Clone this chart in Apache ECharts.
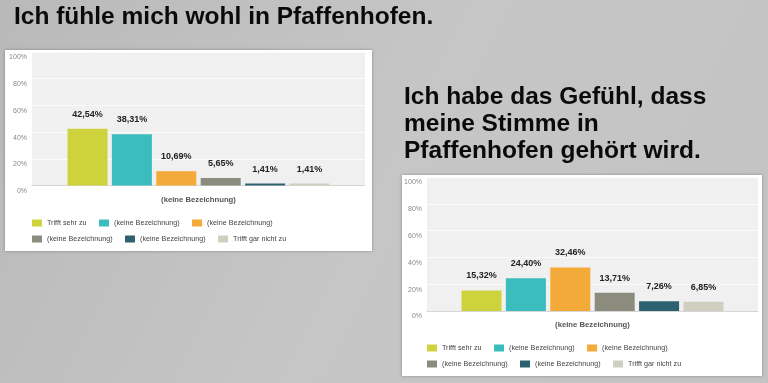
<!DOCTYPE html>
<html>
<head>
<meta charset="utf-8">
<script src="https://cdn.jsdelivr.net/npm/echarts@6/dist/echarts.min.js"></script>
<style>html,body{margin:0;padding:0;background:#c0c0c0}#c{width:768px;height:383px}</style>
</head>
<body>
<div id="c"></div>
<script>
const titleLeft = 'Ich fühle mich wohl in Pfaffenhofen.';
const titleRight = 'Ich habe das Gefühl, dass\nmeine Stimme in\nPfaffenhofen gehört wird.';
const categories = ['(keine Bezeichnung)'];
const seriesNames = ['Trifft sehr zu', '(keine Bezeichnung)', '(keine Bezeichnung)', '(keine Bezeichnung)', '(keine Bezeichnung)', 'Trifft gar nicht zu'];
const valuesLeft = [42.54, 38.31, 10.69, 5.65, 1.41, 1.41];
const valuesRight = [15.32, 24.40, 32.46, 13.71, 7.26, 6.85];
const yTicks = [0, 20, 40, 60, 80, 100];
const colors = ['#cdd23d', '#3bbdbd', '#f4aa38', '#8b8c7e', '#2d6170', '#cfcfc1'];

const FONT = '"Liberation Sans", Arial, sans-serif';
// unique internal names (zero-width suffix) so duplicate labels stay separate legend entries
const uniq = seriesNames.map((n, i) => n + '\u200b'.repeat(i));
const strip = s => s.replace(/\u200b/g, '');
const fmt = v => v.toFixed(2).replace('.', ',') + '%';

const grids = [
  {left: 32, top: 52, width: 333, height: 133.5},
  {left: 427, top: 177, width: 331, height: 134}
];

function makeSeries(vals, gi) {
  return vals.map((v, i) => ({
    type: 'bar', name: uniq[i], xAxisIndex: gi, yAxisIndex: gi,
    data: [v], barWidth: 40, barGap: '11%',
    itemStyle: {color: colors[i]},
    label: {show: true, position: 'top', distance: 10, formatter: p => fmt(p.value),
      fontFamily: FONT, fontSize: 9, fontWeight: 'bold', color: '#222'},
    emphasis: {disabled: true}
  }));
}

function legendRow(names, left, top) {
  return {
    data: names, left: left, top: top, padding: 0, orient: 'horizontal',
    icon: 'rect', itemWidth: 10, itemHeight: 7, itemGap: 12.5,
    formatter: n => strip(n),
    textStyle: {fontFamily: FONT, fontSize: 7.2, color: '#444'},
    selectedMode: false
  };
}

const chart = echarts.init(document.getElementById('c'), null, {renderer: 'canvas'});
chart.setOption({
  animation: false,
  graphic: [
    {type: 'rect', z: -20, shape: {x: 0, y: 0, width: 768, height: 383},
      style: {fill: new echarts.graphic.LinearGradient(0, 0, 1, 1, [
        {offset: 0, color: '#b9b9b9'}, {offset: 0.5, color: '#c6c6c6'}, {offset: 1, color: '#c3c3c3'}])}},
    {type: 'rect', z: -10, shape: {x: 5, y: 50, width: 367, height: 201},
      style: {fill: '#ffffff', shadowBlur: 3, shadowColor: 'rgba(0,0,0,0.3)'}},
    {type: 'rect', z: -10, shape: {x: 402, y: 175, width: 360, height: 201},
      style: {fill: '#ffffff', shadowBlur: 3, shadowColor: 'rgba(0,0,0,0.3)'}}
  ],
  title: [
    {text: titleLeft, left: 14, top: 2, padding: 0,
      textStyle: {fontFamily: FONT, fontSize: 24.5, fontWeight: 'bold', color: '#0a0a0a', lineHeight: 31}},
    {text: titleRight, left: 404, top: 84, padding: 0,
      textStyle: {fontFamily: FONT, fontSize: 24.5, fontWeight: 'bold', color: '#0a0a0a', lineHeight: 26.8}}
  ],
  grid: grids.map(g => Object.assign({show: true, backgroundColor: '#f0f0f0', borderWidth: 0, containLabel: false}, g)),
  xAxis: [0, 1].map(i => ({
    type: 'category', gridIndex: i, data: categories,
    axisTick: {show: false},
    axisLine: {show: true, lineStyle: {color: '#d6d6d6', width: 1}},
    axisLabel: {margin: 10, fontFamily: FONT, fontSize: 7.7, fontWeight: 'bold', color: '#555'}
  })),
  yAxis: [0, 1].map(i => ({
    type: 'value', gridIndex: i, min: yTicks[0], max: yTicks[yTicks.length - 1], interval: yTicks[1] - yTicks[0],
    axisLine: {show: false}, axisTick: {show: false},
    splitLine: {show: true, lineStyle: {color: '#fbfbfb', width: 1}},
    axisLabel: {formatter: '{value}%', margin: 5, verticalAlign: 'top', padding: [2, 0, 0, 0], fontFamily: FONT, fontSize: 7, color: '#888'}
  })),
  legend: [
    legendRow(uniq.slice(0, 3), 32, 219.5),
    legendRow(uniq.slice(3, 6), 32, 235.5),
    legendRow(uniq.slice(0, 3), 427, 344.5),
    legendRow(uniq.slice(3, 6), 427, 360.5)
  ],
  series: makeSeries(valuesLeft, 0).concat(makeSeries(valuesRight, 1))
});
</script>
</body>
</html>
